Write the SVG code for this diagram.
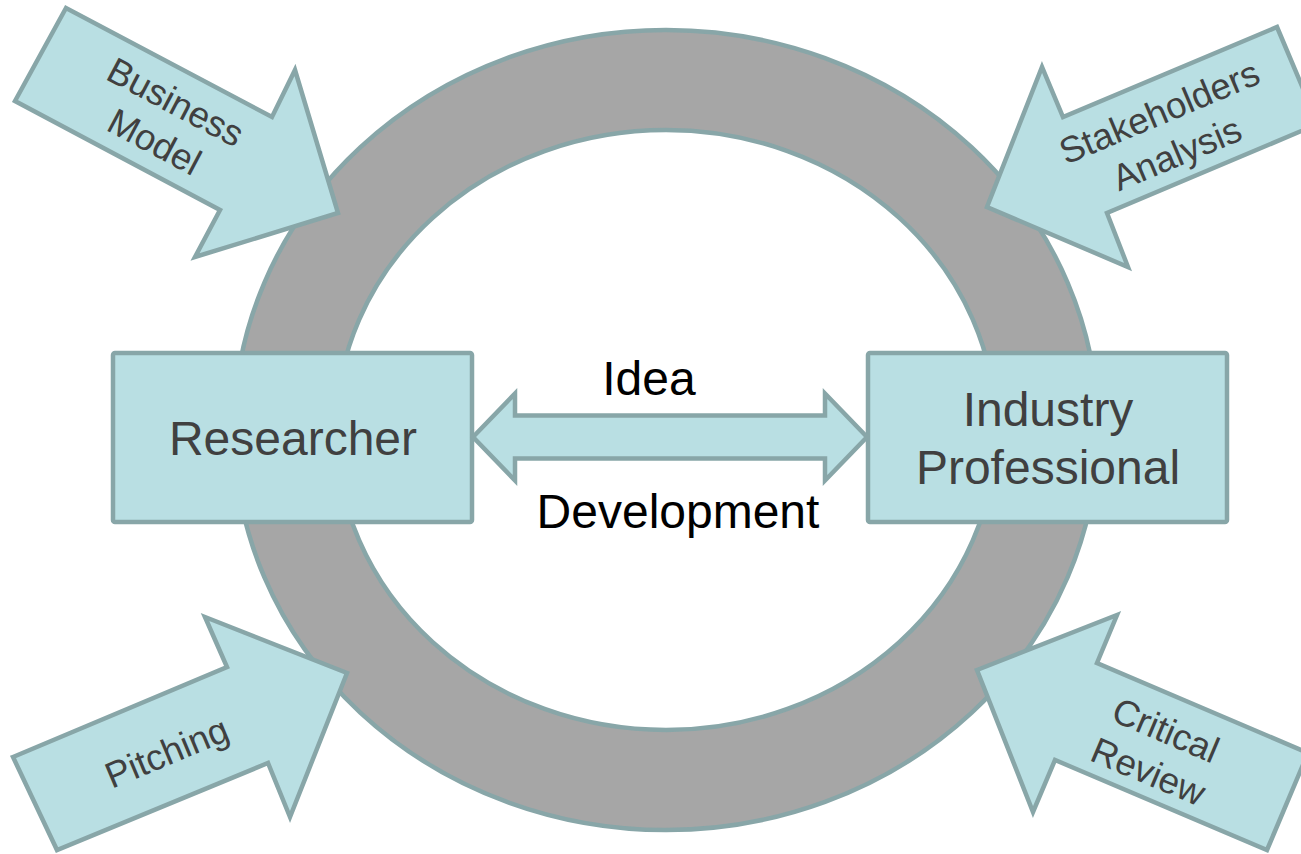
<svg xmlns="http://www.w3.org/2000/svg" width="1301" height="854" viewBox="0 0 1301 854">
<style>
.shape{fill:#b9dfe3;stroke:#88a6a8;stroke-width:4.5;stroke-linejoin:miter}
.ring{fill:#a6a6a6;stroke:#88a6a8;stroke-width:4.5;fill-rule:evenodd}
.lbl{font-family:"Liberation Sans",Arial,sans-serif;fill:#404040;text-anchor:middle}
.big{font-size:48px}
.small{font-size:36.5px}
.conn{font-family:"Liberation Sans",Arial,sans-serif;fill:#000;text-anchor:middle;font-size:48px}
</style>
<rect width="1301" height="854" fill="#fff"/>
<g id="cycle">
<path class="ring" d="M234,430 A432,400 0 1,0 1098,430 A432,400 0 1,0 234,430 Z M336,430 A330,300 0 1,0 996,430 A330,300 0 1,0 336,430 Z"/>
</g>
<g id="business-model">
<polygon class="shape" points="66,8 15,101 220,210 195,257 338,213 295,70 272,117"/>
<g transform="translate(165,122) rotate(28)">
<text class="lbl small" x="0" y="-10">Business</text>
<text class="lbl small" x="0" y="35">Model</text>
</g>
</g>
<g id="stakeholders-analysis">
<polygon class="shape" points="1277,27 1318,124 1107,213 1128,267 987,207 1042,67 1063,117"/>
<g transform="translate(1168,133) rotate(-22.8)">
<text class="lbl small" x="0" y="-10">Stakeholders</text>
<text class="lbl small" x="0" y="35">Analysis</text>
</g>
</g>
<g id="pitching">
<polygon class="shape" points="13,757 227,667 205,617 347,673 290,817 268,763 57,850"/>
<g transform="translate(167,753) rotate(-22.6)">
<text class="lbl small" x="0" y="12">Pitching</text>
</g>
</g>
<g id="critical-review">
<polygon class="shape" points="977,670 1117,615 1097,663 1308,753 1267,850 1055,760 1033,812"/>
<g transform="translate(1157,751) rotate(23)">
<text class="lbl small" x="0" y="-10">Critical</text>
<text class="lbl small" x="0" y="35">Review</text>
</g>
</g>
<g id="researcher">
<rect class="shape" x="113" y="353" width="359" height="169" rx="2"/>
<text class="lbl big" x="293" y="455">Researcher</text>
</g>
<g id="industry-professional">
<rect class="shape" x="868" y="353" width="359" height="169" rx="2"/>
<text class="lbl big" x="1048" y="426">Industry</text>
<text class="lbl big" x="1048" y="484">Professional</text>
</g>
<g id="connectors">
<polygon class="shape" points="473,437 515,393.5 515,415.5 825,415.5 825,393.5 867,437 825,480.5 825,458.5 515,458.5 515,480.5"/>
<text class="conn" x="649" y="395">Idea</text>
<text class="conn" x="678" y="528">Development</text>
</g>
</svg>
